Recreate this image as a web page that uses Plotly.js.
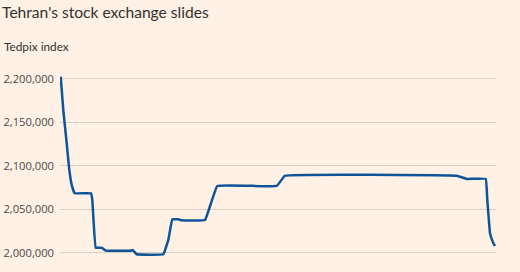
<!DOCTYPE html>
<html>
<head>
<meta charset="utf-8">
<script src="https://cdn.plot.ly/plotly-3.0.1.min.js"></script>
<style>
html,body{margin:0;padding:0;background:#FFF1E5;}
#chart{width:520px;height:272px;}
</style>
</head>
<body>
<div id="chart"></div>
<script>
// Time position (arbitrary trading-period units) and Tedpix index values
const period = [0, 0.6, 1.38, 1.98, 2.53, 3.22, 6.98, 7.28, 8.06, 9.44, 10.36, 15.96, 16.58, 17.5, 23.62, 24.78, 25.7, 27.08, 27.86, 33.23, 36.06, 49.74, 51.65, 91.18, 93.48, 97.86, 98.23, 98.85, 99.47, 100];
const tedpix = [2202300, 2164000, 2125800, 2095100, 2077900, 2068300, 2068300, 2060600, 2005700, 2005700, 2002300, 2002300, 2003000, 1998200, 1998200, 2014700, 2038400, 2038400, 2037300, 2037600, 2076700, 2076700, 2088500, 2088500, 2084800, 2084800, 2060600, 2022300, 2012700, 2007700];
const tickVals = [2000000, 2050000, 2100000, 2150000, 2200000];
const tickText = ["2,000,000", "2,050,000", "2,100,000", "2,150,000", "2,200,000"];

const trace = {
  x: period, y: tedpix, type: 'scatter', mode: 'lines',
  line: {color: '#0F5499', width: 2.5, shape: 'spline', smoothing: 0.2},
  hoverinfo: 'skip'
};

const layout = {
  width: 520, height: 272,
  paper_bgcolor: '#FFF1E5', plot_bgcolor: '#FFF1E5',
  margin: {l: 60, r: 24, t: 70, b: 10},
  font: {family: 'Lato, sans-serif', color: '#66605C', size: 12},
  showlegend: false,
  title: {
    text: "Tehran's stock exchange slides",
    font: {family: 'Lato, sans-serif', size: 15.6, color: '#33302E'},
    xref: 'container', yref: 'container', x: 0.004, xanchor: 'left',
    y: 0.953, yanchor: 'middle', pad: {l: 0, t: 0, b: 0}
  },
  annotations: [{
    text: 'Tedpix index', xref: 'paper', yref: 'paper',
    x: -0.132, xanchor: 'left', y: 1.125, yanchor: 'middle', showarrow: false,
    font: {family: 'Lato, sans-serif', size: 11.8, color: '#33302E'}
  }],
  xaxis: {
    range: [-0.16, 100.23], showgrid: false, zeroline: false,
    showticklabels: false, ticks: '', showline: false, fixedrange: true
  },
  yaxis: {
    range: [1989300, 2210000], tickvals: tickVals, ticktext: tickText,
    showgrid: true, gridcolor: '#D9CEC3', gridwidth: 1, zeroline: false,
    showline: false, ticks: '', ticklabelstandoff: 5,
    tickfont: {family: 'Open Sans, sans-serif', size: 11.2, color: '#4D4845'},
    fixedrange: true
  }
};

Plotly.newPlot('chart', [trace], layout, {displayModeBar: false, staticPlot: true});
</script>
</body>
</html>
